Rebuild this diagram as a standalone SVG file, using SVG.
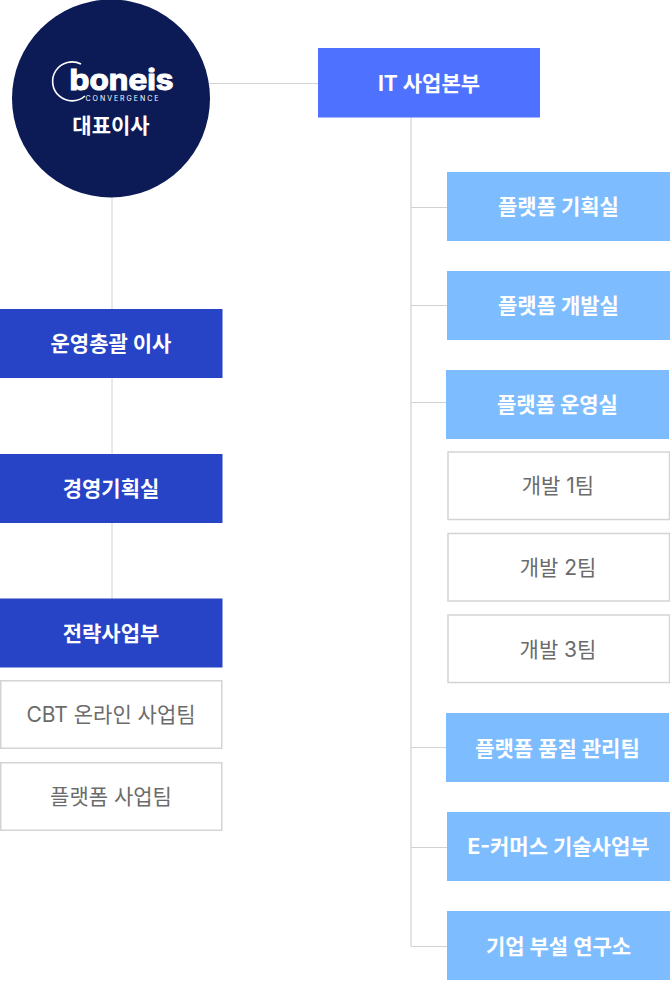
<svg xmlns="http://www.w3.org/2000/svg" width="670" height="981" viewBox="0 0 670 981">
<style>
text{font-family:"Inter","Noto Sans CJK KR",sans-serif;text-anchor:middle}
.c{stroke:#d2d2d2;stroke-width:1;fill:none}
.t{stroke:#dbdbdb;stroke-width:1.5;fill:none}
.b{font-size:21px;font-weight:700;fill:#fff}
.g{font-size:21px;font-weight:400;fill:#6b6b6b}
.dark{fill:#2743c6}
.light{fill:#7dbdff}
.box{fill:#fff;stroke:#d4d4d4;stroke-width:1.5}
</style>
<g id="connectors">
<path class="c" d="M208 83.500H320"/>
<path class="c" d="M112 195V600"/>
<path class="t" d="M411 117V946.500"/>
<path class="c" d="M411 207.500H448M411 305.500H448M411 402.500H447M411 747.500H447M411 847.500H448M411 946.500H448"/>
</g>
<g id="ceo">
<circle cx="111" cy="98.500" r="99" fill="#0c1b56"/>
<path d="M81 64A19.500 19.500 0 1 0 85 96" fill="none" stroke="#fff" stroke-width="1.600"/>
<text x="121.500" y="90" font-size="28" font-weight="700" style="fill:#fff" stroke="#fff" stroke-width="1" textLength="104" lengthAdjust="spacingAndGlyphs">boneis</text>
<text x="122" y="100.500" font-size="7" style="fill:#fff" textLength="73">CONVERGENCE</text>
<text class="b" x="111" y="133">대표이사</text>
</g>
<g id="it"><rect x="318" y="48" width="222" height="69.500" fill="#4f71ff"/><text class="b" x="429" y="91">IT 사업본부</text></g>
<g id="n1"><rect class="light" x="447" y="172" width="223" height="69"/><text class="b" x="558.500" y="214">플랫폼 기획실</text></g>
<g id="n2"><rect class="light" x="447" y="271" width="223" height="69"/><text class="b" x="558.500" y="313">플랫폼 개발실</text></g>
<g id="n3"><rect class="light" x="446" y="370" width="223" height="69"/><text class="b" x="557.500" y="412">플랫폼 운영실</text></g>
<g id="t1"><rect class="box" x="448" y="452" width="221.500" height="67.500"/><text class="g" x="558" y="493">개발 1팀</text></g>
<g id="t2"><rect class="box" x="448" y="533.500" width="221.500" height="67.500"/><text class="g" x="558" y="575">개발 2팀</text></g>
<g id="t3"><rect class="box" x="448" y="615" width="221.500" height="67.500"/><text class="g" x="558" y="657">개발 3팀</text></g>
<g id="n4"><rect class="light" x="446" y="713" width="223" height="69"/><text class="b" x="557.500" y="756">플랫폼 품질 관리팀</text></g>
<g id="n5"><rect class="light" x="447" y="812" width="223" height="69"/><text class="b" x="558.500" y="854">E-커머스 기술사업부</text></g>
<g id="n6"><rect class="light" x="447" y="911" width="223" height="69"/><text class="b" x="558.500" y="954">기업 부설 연구소</text></g>
<g id="d1"><rect class="dark" x="0" y="309" width="222.500" height="69"/><text class="b" x="111" y="351">운영총괄 이사</text></g>
<g id="d2"><rect class="dark" x="0" y="454" width="222.500" height="69"/><text class="b" x="111" y="496">경영기획실</text></g>
<g id="d3"><rect class="dark" x="0" y="598.500" width="222.500" height="69"/><text class="b" x="111" y="641">전략사업부</text></g>
<g id="s1"><rect class="box" x="0.750" y="680.750" width="221" height="67.500"/><text class="g" x="111" y="722">CBT 온라인 사업팀</text></g>
<g id="s2"><rect class="box" x="0.750" y="762.750" width="221" height="67.500"/><text class="g" x="111" y="804">플랫폼 사업팀</text></g>
</svg>
